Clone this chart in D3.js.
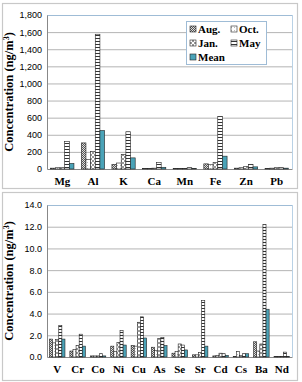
<!DOCTYPE html>
<html><head><meta charset="utf-8">
<script src="https://cdn.jsdelivr.net/npm/d3@7"></script>
<style>body{margin:0;background:#fff}svg{display:block}</style>
</head><body><svg id="c" width="302" height="382"></svg>
<script>
const series = ["Aug.", "Oct.", "Jan.", "May", "Mean"];
const catsTop = ["Mg","Al","K","Ca","Mn","Fe","Zn","Pb"];
const augTop  = [10, 305, 55, 5, 5, 60, 10, 5];
const octTop  = [15, 110, 70, 5, 5, 50, 15, 10];
const janTop  = [15, 205, 170, 10, 5, 75, 30, 15];
const mayTop  = [320, 1575, 435, 75, 15, 615, 55, 15];
const meanTop = [65, 450, 130, 20, 5, 150, 25, 10];
const ticksTop = [0,200,400,600,800,1000,1200,1400,1600,1800];

const catsBot = ["V","Cr","Co","Ni","Cu","As","Se","Sr","Cd","Cs","Ba","Nd"];
const augBot  = [1.65, 0.55, 0.10, 1.00, 1.05, 0.90, 0.35, 0.20, 0.10, 0.05, 1.40, 0.05];
const octBot  = [1.30, 0.70, 0.10, 0.50, 1.00, 0.60, 0.50, 0.20, 0.15, 0.50, 0.55, 0.05];
const janBot  = [1.60, 1.05, 0.10, 1.35, 3.20, 1.70, 1.20, 0.40, 0.35, 0.15, 1.20, 0.05];
const mayBot  = [2.90, 2.10, 0.30, 2.45, 3.70, 1.80, 1.10, 5.20, 0.30, 0.30, 12.20, 0.45];
const meanBot = [1.65, 1.00, 0.10, 1.10, 1.75, 1.05, 0.65, 1.00, 0.15, 0.30, 4.40, 0.05];
const ticksBot = [0,2,4,6,8,10,12,14];

const svg = d3.select("#c");
const defs = svg.append("defs");
let p = defs.append("pattern").attr("id","pAug").attr("patternUnits","userSpaceOnUse").attr("width",2).attr("height",2);
p.append("rect").attr("width",2).attr("height",2).attr("fill","#555");
p.append("rect").attr("width",1).attr("height",1).attr("fill","#ddd");
p.append("rect").attr("x",1).attr("y",1).attr("width",1).attr("height",1).attr("fill","#ddd");
p = defs.append("pattern").attr("id","pOct").attr("patternUnits","userSpaceOnUse").attr("width",3).attr("height",3);
p.append("rect").attr("width",3).attr("height",3).attr("fill","#fff");
p.append("rect").attr("width",1).attr("height",1).attr("fill","#bbb");
p = defs.append("pattern").attr("id","pJan").attr("patternUnits","userSpaceOnUse").attr("width",4).attr("height",4);
p.append("rect").attr("width",4).attr("height",4).attr("fill","#fff");
p.append("rect").attr("width",2).attr("height",2).attr("fill","#999");
p.append("rect").attr("x",2).attr("y",2).attr("width",2).attr("height",2).attr("fill","#999");
p = defs.append("pattern").attr("id","pMay").attr("patternUnits","userSpaceOnUse").attr("width",3).attr("height",3);
p.append("rect").attr("width",3).attr("height",3).attr("fill","#fff");
p.append("rect").attr("y",2).attr("width",3).attr("height",1).attr("fill","#333");
const fills = ["url(#pAug)","url(#pOct)","url(#pJan)","url(#pMay)","#4aa3b8"];

function panel(cfg){
  const g = svg.append("g");
  g.append("rect").attr("x",cfg.bx).attr("y",cfg.by).attr("width",cfg.bw).attr("height",cfg.bh)
    .attr("fill","#fff").attr("stroke","#c8c8c8").attr("stroke-width",1.2);
  const x = d3.scaleBand().domain(cfg.cats).range([cfg.left,cfg.right]).paddingInner(0.24).paddingOuter(0.12);
  const xs = d3.scaleBand().domain(series).range([0,x.bandwidth()]);
  const y = d3.scaleLinear().domain([0,cfg.max]).range([cfg.bottom,cfg.top]);
  g.append("g").selectAll("line").data(cfg.ticks.slice(1)).join("line")
    .attr("x1",cfg.left).attr("x2",cfg.right).attr("y1",d=>y(d)+0.5).attr("y2",d=>y(d)+0.5)
    .attr("stroke","#b4b4b4").attr("stroke-width",1);
  g.append("line").attr("x1",cfg.right+0.5).attr("x2",cfg.right+0.5).attr("y1",cfg.top).attr("y2",cfg.bottom)
    .attr("stroke","#b9d2e6").attr("stroke-width",1);
  g.append("line").attr("x1",cfg.left).attr("x2",cfg.right).attr("y1",cfg.top+0.5).attr("y2",cfg.top+0.5)
    .attr("stroke","#9fbcd6").attr("stroke-width",1);
  const ya = d3.axisLeft(y).tickValues(cfg.ticks).tickFormat(cfg.fmt).tickSize(0).tickPadding(5);
  const yg = g.append("g").attr("transform",`translate(${cfg.left},0)`).call(ya);
  yg.select(".domain").attr("stroke","#888");
  yg.selectAll("text").attr("font-family","Liberation Sans, Arial").attr("font-size",9).attr("fill","#000");
  const xa = d3.axisBottom(x).tickSize(0).tickPadding(8);
  const xg = g.append("g").attr("transform",`translate(0,${cfg.bottom})`).call(xa);
  xg.select(".domain").attr("stroke","#888");
  xg.selectAll("text").attr("font-family","Liberation Serif, Times New Roman").attr("font-weight","bold").attr("font-size",11).attr("fill","#000");
  cfg.data.forEach((vals,si)=>{
    g.append("g").selectAll("rect").data(vals).join("rect")
      .attr("x",(d,i)=>x(cfg.cats[i])+xs(series[si]))
      .attr("y",d=>y(d)).attr("width",xs.bandwidth()).attr("height",d=>cfg.bottom-y(d))
      .attr("fill",fills[si]).attr("stroke","#222").attr("stroke-width",0.6);
  });
  const t = g.append("text").attr("transform",`translate(${cfg.tx},${(cfg.top+cfg.bottom)/2}) rotate(-90)`)
    .attr("text-anchor","middle").attr("font-family","Liberation Serif, Times New Roman").attr("font-weight","bold").attr("font-size",12.5);
  t.append("tspan").text("Concentration (ng/m");
  t.append("tspan").text("3").attr("font-size",8).attr("dy",-4);
  t.append("tspan").text(")").attr("dy",4);
  return g;
}

const gTop = panel({bx:2.5,by:3.5,bw:295,bh:185,left:47,right:292,top:15,bottom:169,max:1800,
  cats:catsTop,ticks:ticksTop,fmt:d3.format(","),tx:13,data:[augTop,octTop,janTop,mayTop,meanTop]});
panel({bx:2.5,by:192.5,bw:295,bh:188,left:47,right:292,top:205,bottom:357,max:14,
  cats:catsBot,ticks:ticksBot,fmt:d3.format(".1f"),tx:13,data:[augBot,octBot,janBot,mayBot,meanBot]});

const lg = gTop.append("g");
lg.append("rect").attr("x",186.5).attr("y",21.5).attr("width",80).attr("height",43).attr("fill","#fff").attr("stroke","#9fbcd6");
const pos = [[190,29],[231,29],[190,43],[231,43],[190,57]];
series.forEach((s,i)=>{
  lg.append("rect").attr("x",pos[i][0]).attr("y",pos[i][1]-3).attr("width",6).attr("height",6)
    .attr("fill",fills[i]).attr("stroke","#222").attr("stroke-width",0.6);
  lg.append("text").attr("x",pos[i][0]+8).attr("y",pos[i][1]+4).text(s)
    .attr("font-family","Liberation Serif, Times New Roman").attr("font-weight","bold").attr("font-size",11);
});
</script></body></html>
